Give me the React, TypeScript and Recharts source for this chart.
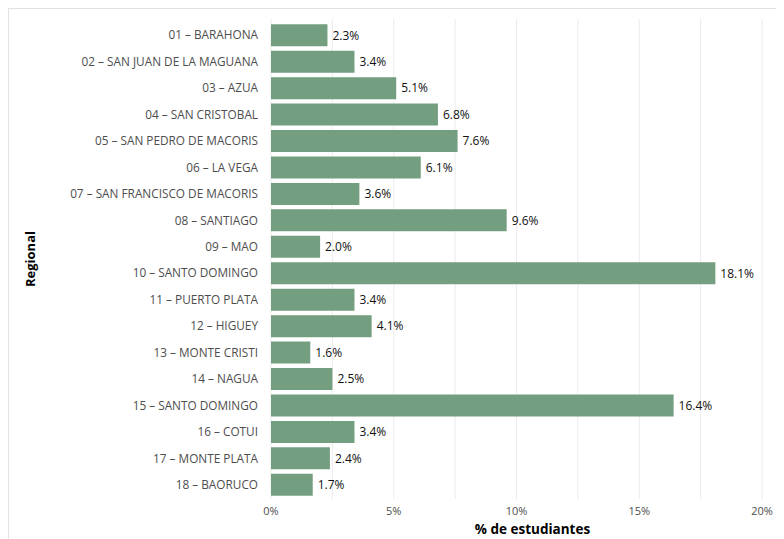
import React from "react";
import { BarChart, Bar, XAxis, YAxis, CartesianGrid, LabelList, Label } from "recharts";

const regions = [
  "01 – BARAHONA",
  "02 – SAN JUAN DE LA MAGUANA",
  "03 – AZUA",
  "04 – SAN CRISTOBAL",
  "05 – SAN PEDRO DE MACORIS",
  "06 – LA VEGA",
  "07 – SAN FRANCISCO DE MACORIS",
  "08 – SANTIAGO",
  "09 – MAO",
  "10 – SANTO DOMINGO",
  "11 – PUERTO PLATA",
  "12 – HIGUEY",
  "13 – MONTE CRISTI",
  "14 – NAGUA",
  "15 – SANTO DOMINGO",
  "16 – COTUI",
  "17 – MONTE PLATA",
  "18 – BAORUCO",
];

const percentages = [2.3, 3.4, 5.1, 6.8, 7.6, 6.1, 3.6, 9.6, 2.0, 18.1, 3.4, 4.1, 1.6, 2.5, 16.4, 3.4, 2.4, 1.7];

const xTicks = [0, 5, 10, 15, 20];
const gridLines = [0, 2.5, 5, 7.5, 10, 12.5, 15, 17.5, 20];

const data = regions.map((r, i) => ({ region: r, pct: percentages[i] }));

const FONT = "'Open Sans', sans-serif";

export default function App() {
  return (
    <div
      style={{
        width: 800,
        height: 540,
        borderTop: "1px solid #e3e3e3",
        borderLeft: "1px solid #e3e3e3",
        boxSizing: "border-box",
        fontFamily: FONT,
      }}
    >
      <BarChart
        width={775}
        height={530}
        data={data}
        layout="vertical"
        margin={{ top: 10, right: 22, left: 0, bottom: 20 }}
        barCategoryGap="8.5%"
      >
        <CartesianGrid
          horizontal={false}
          vertical={true}
          stroke="#ebebeb"
          strokeWidth={1}
          verticalValues={gridLines}
        />
        <XAxis
          type="number"
          domain={[0, 20]}
          ticks={xTicks}
          tickFormatter={(v: number) => `${v}%`}
          axisLine={false}
          tickLine={false}
          tickSize={0}
          tickMargin={8}
          height={20}
          tick={{ fill: "#4d4d4d", fontSize: 11, fontFamily: FONT }}
          interval={0}
        >
          <Label
            value="% de estudiantes"
            position="bottom"
            offset={5}
            dx={16}
            style={{ fill: "#000", fontSize: 13.5, fontWeight: 700, fontFamily: FONT }}
          />
        </XAxis>
        <YAxis
          type="category"
          dataKey="region"
          width={262}
          axisLine={false}
          tickLine={false}
          tickSize={0}
          tickMargin={13}
          interval={0}
          padding={{ top: 3, bottom: 1 }}
          tick={{ fill: "#4d4d4d", fontSize: 11.8, fontFamily: FONT }}
        >
          <Label
            value="Regional"
            angle={-90}
            position="insideLeft"
            offset={21}
            style={{ fill: "#000", fontSize: 13, fontWeight: 700, fontFamily: FONT, textAnchor: "middle" }}
          />
        </YAxis>
        <Bar dataKey="pct" fill="#739e80" isAnimationActive={false}>
          <LabelList
            dataKey="pct"
            position="right"
            offset={5}
            formatter={(v: number) => `${v.toFixed(1)}%`}
            style={{ fill: "#111", fontSize: 12, fontFamily: FONT }}
          />
        </Bar>
      </BarChart>
    </div>
  );
}
